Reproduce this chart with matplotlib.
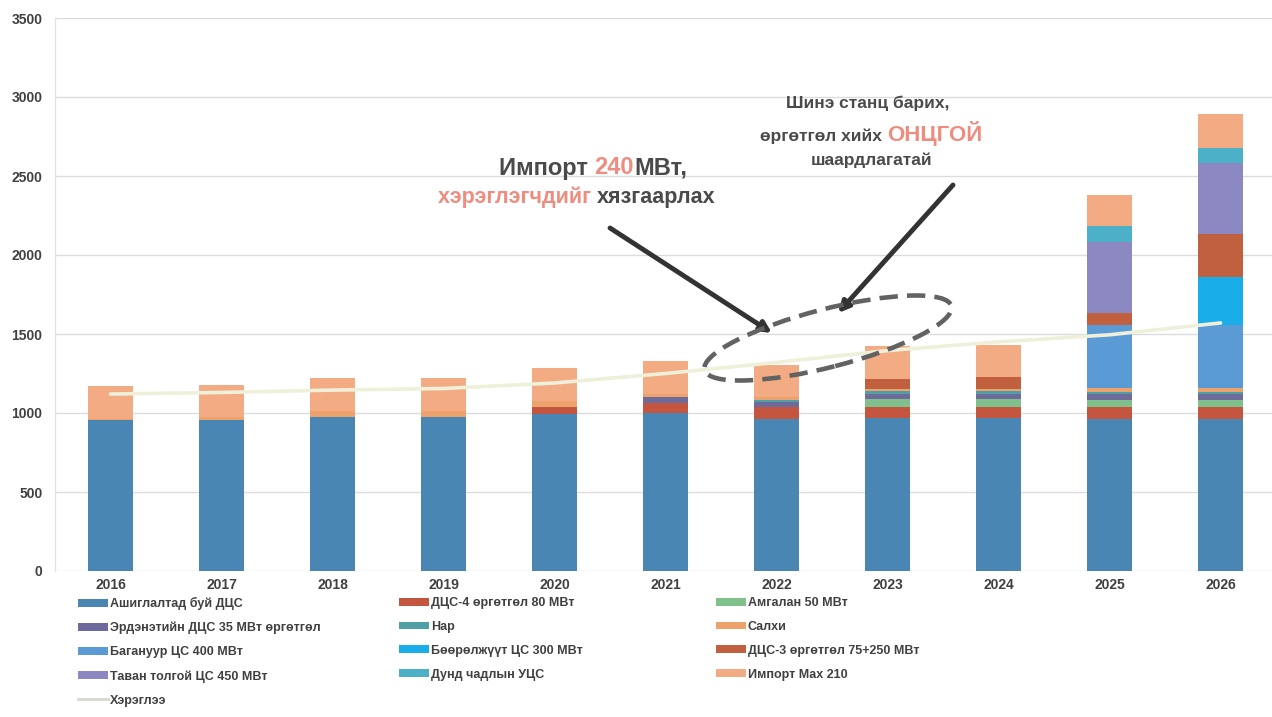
import matplotlib
matplotlib.use('Agg')
import matplotlib.pyplot as plt
from matplotlib.patches import Ellipse, Rectangle
from matplotlib.lines import Line2D
from matplotlib.offsetbox import TextArea, HPacker, AnchoredOffsetbox
from matplotlib.transforms import IdentityTransform
import numpy as np

# ---------------- data ----------------
years = ['2016', '2017', '2018', '2019', '2020', '2021', '2022', '2023', '2024', '2025', '2026']
existing    = [955, 955, 975, 975, 995, 1000, 965, 968, 968, 965, 965]
dcs4        = [0, 0, 0, 0, 40, 65, 70, 70, 70, 70, 70]
amgalan     = [0, 0, 0, 0, 0, 0, 0, 50, 50, 50, 50]
erdenet     = [0, 0, 0, 0, 0, 35, 35, 35, 35, 35, 35]
nar         = [0, 0, 0, 0, 0, 0, 15, 15, 15, 15, 15]
salkhi      = [10, 20, 35, 35, 40, 20, 15, 15, 15, 25, 25]
baganuur    = [0, 0, 0, 0, 0, 0, 0, 0, 0, 400, 400]
booroljuut  = [0, 0, 0, 0, 0, 0, 0, 0, 0, 0, 300]
dcs3        = [0, 0, 0, 0, 0, 0, 0, 65, 75, 75, 275]
tavantolgoi = [0, 0, 0, 0, 0, 0, 0, 0, 0, 450, 450]
dund        = [0, 0, 0, 0, 0, 0, 0, 0, 0, 100, 95]
import_max  = [205, 205, 210, 210, 208, 207, 205, 205, 200, 195, 210]
consumption = [1120, 1130, 1145, 1155, 1190, 1250, 1320, 1395, 1450, 1495, 1570]

series_names = ['Ашиглалтад буй ДЦС', 'ДЦС-4 өргөтгөл 80 МВт', 'Амгалан 50 МВт',
                'Эрдэнэтийн ДЦС 35 МВт өргөтгөл', 'Нар', 'Салхи',
                'Багануур ЦС 400 МВт', 'Бөөрөлжүүт ЦС 300 МВт', 'ДЦС-3 өргөтгөл 75+250 МВт',
                'Таван толгой ЦС 450 МВт', 'Дунд чадлын УЦС', 'Импорт Max 210']
series_values = [existing, dcs4, amgalan, erdenet, nar, salkhi, baganuur, booroljuut,
                 dcs3, tavantolgoi, dund, import_max]
series_colors = ['#4a86b4', '#c4563f', '#7fc08b', '#6d6b9c', '#4e9fa6', '#eda26c',
                 '#5b9bd5', '#19aee9', '#c1603f', '#8c88c2', '#4cb0c8', '#f2ab82']
line_name = 'Хэрэглээ'
yticks = [0, 500, 1000, 1500, 2000, 2500, 3000, 3500]

# ---------------- figure ----------------
W, H = 1272, 717
DPI = 100
fig = plt.figure(figsize=(W / DPI, H / DPI), dpi=DPI)
fig.patch.set_facecolor('white')

NARROW = ['Liberation Sans Narrow', 'Liberation Sans', 'DejaVu Sans']
SANS = ['Liberation Sans', 'DejaVu Sans']

ax_left, ax_right = 55, 1272
ax_bottom, ax_top = 571, 18
ax = fig.add_axes([ax_left / W, 1 - ax_bottom / H, (ax_right - ax_left) / W, (ax_bottom - ax_top) / H])

x = np.arange(len(years))
bottom = np.zeros(len(years))
for name, vals, col in zip(series_names, series_values, series_colors):
    v = np.array(vals, dtype=float)
    ax.bar(x, v, width=0.4, bottom=bottom, color=col, label=name, zorder=2, linewidth=0)
    bottom += v

ax.plot(x, consumption, color='#eef0da', lw=2.6, zorder=3, solid_capstyle='round')

span = (ax_right - ax_left) / 111.0
ax.set_xlim(-0.5, -0.5 + span)
ax.set_ylim(0, 3500)
ax.set_yticks(yticks)
ax.set_yticklabels([str(t) for t in yticks])
ax.set_xticks(x)
ax.set_xticklabels(years)
for lab in ax.get_xticklabels() + ax.get_yticklabels():
    lab.set_family(SANS)
    lab.set_fontweight('bold')
    lab.set_fontsize(10)
    lab.set_color('#404040')
ax.tick_params(axis='both', length=0)
ax.tick_params(axis='x', pad=5)
ax.tick_params(axis='y', pad=9)
ax.grid(axis='y', color='#dcdcdc', lw=1, zorder=0)
ax.set_axisbelow(True)
for s in ['top', 'right', 'bottom']:
    ax.spines[s].set_visible(False)
ax.spines['left'].set_color('#e3e3e3')
ax.spines['left'].set_linewidth(1)

# ---------------- legend (three columns, row-major order) ----------------
handles = [Rectangle((0, 0), 1, 1, facecolor=c, edgecolor='none') for c in series_colors]
line_handle = Line2D([0], [0], color='#d6d9cf', lw=2)
cols = [
    ([handles[0], handles[3], handles[6], handles[9], line_handle],
     [series_names[0], series_names[3], series_names[6], series_names[9], line_name], 78),
    ([handles[1], handles[4], handles[7], handles[10]],
     [series_names[1], series_names[4], series_names[7], series_names[10]], 399),
    ([handles[2], handles[5], handles[8], handles[11]],
     [series_names[2], series_names[5], series_names[8], series_names[11]], 716),
]
for hs, ls, xpx in cols:
    leg = fig.legend(hs, ls, loc='upper left', bbox_to_anchor=(xpx / W, 1 - 597 / H),
                     frameon=False, borderpad=0, borderaxespad=0, handlelength=2.4,
                     handleheight=0.6, handletextpad=0.15, labelspacing=0.95,
                     prop={'family': SANS, 'weight': 'bold', 'size': 9})
    for t in leg.get_texts():
        t.set_color('#404040')

# ---------------- annotations ----------------
GRAY = '#4a4a4a'
RED = '#ee8c7f'


def rich_line(parts, x_px, y_px):
    boxes = [TextArea(t, textprops=dict(color=c, fontsize=s, fontweight='bold', family=NARROW))
             for t, c, s in parts]
    pack = HPacker(children=boxes, align='baseline', pad=0, sep=0)
    ab = AnchoredOffsetbox(loc='center', child=pack, pad=0, borderpad=0, frameon=False,
                           bbox_to_anchor=(x_px / W, 1 - y_px / H),
                           bbox_transform=fig.transFigure)
    ab.set_zorder(6)
    fig.add_artist(ab)


rich_line([('Импорт ', GRAY, 17), ('240', RED, 17), ('МВт,', GRAY, 17)], 593, 168)
rich_line([('хэрэглэгчдийг ', RED, 15.5), ('хязгаарлах', GRAY, 15.5)], 577, 197)
rich_line([('Шинэ станц барих,', GRAY, 12.5)], 868, 103)
rich_line([('өргөтгөл хийх ', GRAY, 12.5), ('ОНЦГОЙ', RED, 16)], 871, 133)
rich_line([('шаардлагатай', GRAY, 12.5)], 872, 160)

arrow_kw = dict(arrowstyle='-|>', color='#333333', lw=3.5, mutation_scale=16, shrinkA=0, shrinkB=0)
ax.annotate('', xy=(772, H - 333), xytext=(610, H - 228), xycoords='figure pixels',
            textcoords='figure pixels', arrowprops=arrow_kw, zorder=6)
ax.annotate('', xy=(838, H - 313), xytext=(953, H - 185), xycoords='figure pixels',
            textcoords='figure pixels', arrowprops=arrow_kw, zorder=6)

ell = Ellipse((828, H - 338), width=255, height=58, angle=14.5, transform=IdentityTransform(),
              fill=False, edgecolor='#626262', lw=3.3, linestyle=(0, (4, 2)), zorder=6)
fig.add_artist(ell)

fig.savefig('out.png', dpi=DPI, facecolor='white')
